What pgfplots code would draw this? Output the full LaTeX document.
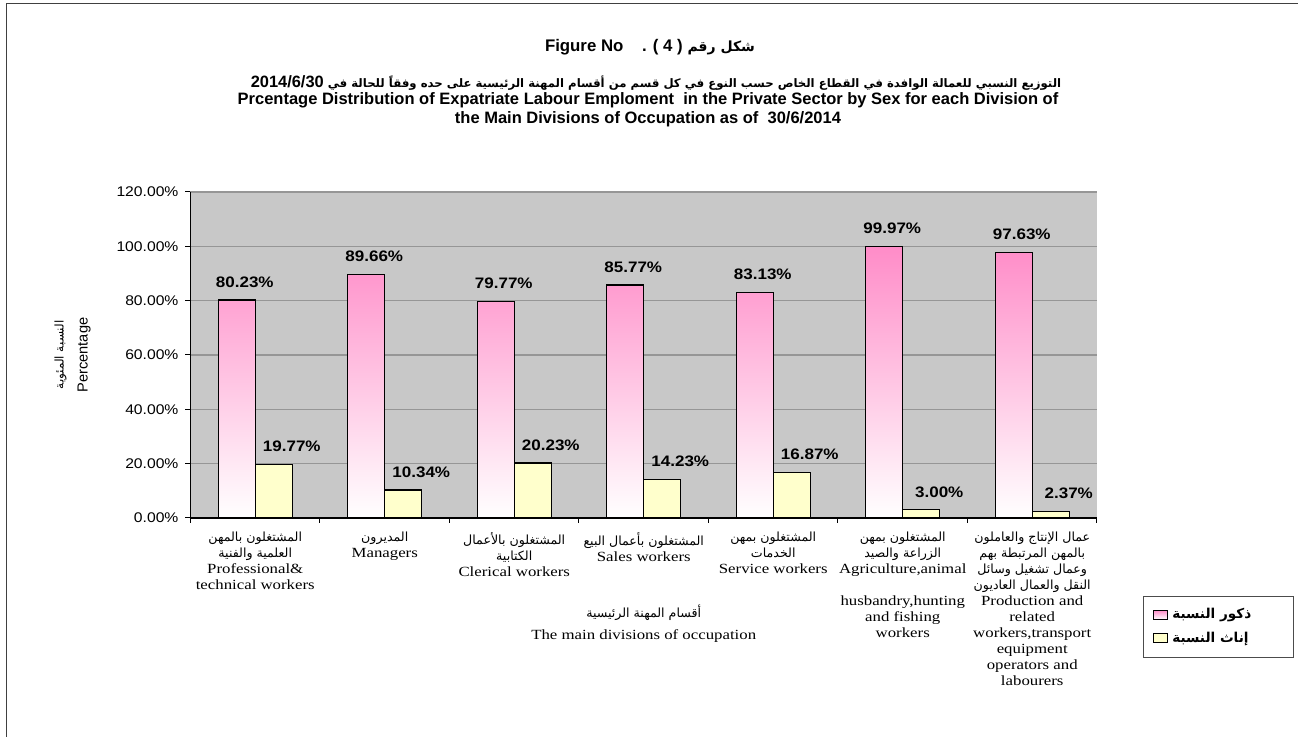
\documentclass[border=0pt]{standalone}
\usepackage{fontspec}
\usepackage{pgfplots}
\pgfplotsset{compat=1.18}
\setmainfont{Liberation Serif}
\newfontfamily\arial[FakeStretch=1.12]{Liberation Sans}
\newfontfamily\arialt{Liberation Sans}
\newfontfamily\tnr[FakeStretch=1.2]{Liberation Serif}
\newfontfamily\arabicfont[Script=Arabic]{DejaVu Sans}
\TeXXeTstate=1

\definecolor{plotgrey}{RGB}{200,200,200}
\definecolor{gridgrey}{RGB}{150,150,150}
\definecolor{pinktop}{RGB}{255,140,200}
\definecolor{pinkleg}{RGB}{255,185,220}
\definecolor{yellowbar}{RGB}{255,255,204}

% Arabic font for the category labels
\newcommand{\arf}{\arabicfont\fontsize{6.3}{8}\selectfont}

\begin{document}
\begin{tikzpicture}
\useasboundingbox (0,0) rectangle (649pt,-368.5pt);
% page frame (top and left edges only)
\draw[black!75, line width=0.5pt] (3.2pt,-368.5pt) -- (3.2pt,-1.7pt) -- (649pt,-1.7pt);

% titles
\node[font=\arialt\bfseries\fontsize{8.4}{9}\selectfont] at (325pt,-23.5pt)
  {Figure No\ \ \ \ . ( 4 ) {\arabicfont\fontsize{7}{9}\selectfont\beginR شكل رقم\endR}};
\node[font=\arabicfont\bfseries\fontsize{5.85}{9}\selectfont] at (328pt,-41.5pt)
  {\beginR التوزيع النسبي للعمالة الوافدة في القطاع الخاص حسب النوع في كل قسم من أقسام المهنة الرئيسية على حده وفقاً للحالة في \beginL{\arialt\fontsize{8.2}{9}\selectfont 2014/6/30}\endL\endR};
\node[font=\arialt\bfseries\fontsize{8.25}{9.3}\selectfont, align=center] at (324pt,-55pt)
  {Prcentage Distribution of Expatriate Labour Emploment\ \ in the Private Sector by Sex for each Division of\\
   the Main Divisions of Occupation as of\ \ 30/6/2014};

\begin{axis}[
    at={(95.25pt,-259pt)}, anchor=south west,
    scale only axis,
    width=453.25pt, height=163pt,
    ybar=0pt,
    bar width=18.5pt,
    xmin=-0.5, xmax=6.5,
    ymin=0, ymax=120,
    ytick={0,20,...,120},
    yticklabel={\pgfmathprintnumber[fixed,fixed zerofill,precision=2]{\tick}\%},
    /pgf/number format/assume math mode=true,
    xtick={0,...,6},
    minor xtick={-0.5,0.5,...,6.5},
    major x tick style={draw=none},
    minor tick length=2.5pt,
    major tick length=2.5pt,
    tick align=outside,
    tick style={black, line width=0.5pt},
    axis x line*=bottom,
    axis y line*=left,
    axis line style={black, line width=0.6pt, -},
    axis background/.style={fill=plotgrey},
    ymajorgrids,
    grid style={gridgrey, line width=0.6pt},
    yticklabel style={font=\arial\fontsize{7}{8}\selectfont},
    xticklabel style={font=\tnr\fontsize{7}{8}\selectfont, align=center, anchor=north, yshift=-1pt},
    xticklabels={
      {{\arf\beginR المشتغلون بالمهن\endR}\\{\arf\beginR العلمية والفنية\endR}\\Professional\&\\technical workers},
      {{\arf\beginR المديرون\endR}\\Managers},
      {{\arf\beginR المشتغلون بالأعمال\endR}\\{\arf\beginR الكتابية\endR}\\Clerical workers},
      {{\arf\beginR المشتغلون بأعمال البيع\endR}\\Sales workers},
      {{\arf\beginR المشتغلون بمهن\endR}\\{\arf\beginR الخدمات\endR}\\Service workers},
      {{\arf\beginR المشتغلون بمهن\endR}\\{\arf\beginR الزراعة والصيد\endR}\\Agriculture,animal\\[8pt]husbandry,hunting\\and fishing\\workers},
      {{\arf\beginR عمال الإنتاج والعاملون\endR}\\{\arf\beginR بالمهن المرتبطة بهم\endR}\\{\arf\beginR وعمال تشغيل وسائل\endR}\\{\arf\beginR النقل والعمال العاديون\endR}\\Production and\\related\\workers,transport\\equipment\\operators and\\labourers}
    },
    ylabel={{\arabicfont\fontsize{6}{8}\selectfont\beginR النسبة المئوية\endR}\\{\arialt\fontsize{7.3}{8}\selectfont Percentage}},
    every axis y label/.style={at={(axis description cs:-0.13,0.5)}, rotate=90, anchor=center, align=center},
    xlabel={{\arf\beginR أقسام المهنة الرئيسية\endR}\\[-1pt]{\tnr\fontsize{7}{8}\selectfont The main divisions of occupation}},
    every axis x label/.style={at={(axis description cs:0.5,-0.245)}, anchor=north, align=center},
    nodes near coords={\pgfmathprintnumber[fixed,fixed zerofill,precision=2]{\pgfplotspointmeta}\%},
    nodes near coords style={font=\arial\bfseries\fontsize{7.6}{9}\selectfont, anchor=south, inner sep=0pt, yshift=6pt},
    legend style={at={(1.0507,-0.24)}, anchor=north west, draw=black!70, fill=white,
      font=\arabicfont\bfseries\fontsize{6.8}{8}\selectfont, row sep=1pt, inner xsep=5pt, inner ysep=4pt},
    legend cell align=left,
]
\addplot[draw=black, line width=0.6pt, top color=pinktop, bottom color=white,
  every node near coord/.append style={xshift=4pt},
  legend image code/.code={\draw[black, line width=0.5pt, fill=pinkleg] (0pt,-2pt) rectangle (7pt,2.5pt);}]
  coordinates {(0,80.23) (1,89.66) (2,79.77) (3,85.77) (4,83.13) (5,99.97) (6,97.63)};
\addplot[draw=black, line width=0.6pt, fill=yellowbar,
  every node near coord/.append style={xshift=9pt},
  legend image code/.code={\draw[black, line width=0.5pt, fill=yellowbar] (0pt,-2pt) rectangle (7pt,2.5pt);}]
  coordinates {(0,19.77) (1,10.34) (2,20.23) (3,14.23) (4,16.87) (5,3.00) (6,2.37)};
\addlegendentry{\beginR ذكور النسبة\endR\rule{14pt}{0pt}}
\addlegendentry{\beginR إناث النسبة\endR\rule{14pt}{0pt}}
\end{axis}
\end{tikzpicture}
\end{document}
